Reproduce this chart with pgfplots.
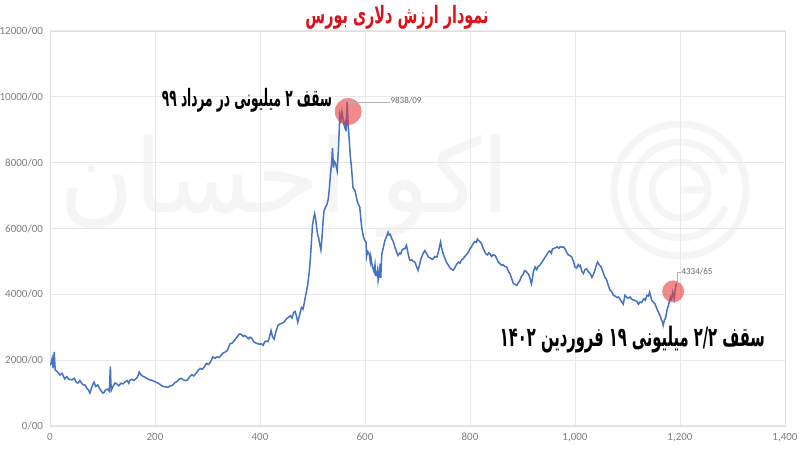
\documentclass[border=0pt]{standalone}
\usepackage{fontspec}
\usepackage{pgfplots}
\pgfplotsset{compat=1.18}
\usepackage{graphicx}
\setmainfont{Carlito}
\newfontfamily\fa[Script=Arabic]{DejaVu Sans}
\TeXXeTstate=1
\definecolor{lineblue}{RGB}{68,114,196}
\definecolor{titlered}{RGB}{222,16,28}
\definecolor{wm}{RGB}{245,245,245}
\definecolor{hl}{RGB}{235,60,60}
\begin{document}
\begin{tikzpicture}
\useasboundingbox (-25pt,-12.5pt) rectangle (375pt,213pt);
\fill[white] (-25pt,-12.5pt) rectangle (375pt,213pt);
% watermark
\node[text=wm] at (117.5pt,120pt) {\resizebox{225pt}{!}{\fa\beginR اکو احسان\endR}};
\draw[wm, line width=3.5pt] (315pt,118pt) circle (33pt);
\draw[wm, line width=3.5pt] (315pt,118pt) ++(20:24pt) arc (20:340:24pt);
\draw[wm, line width=3.5pt] (315pt,118pt) ++(-30:14pt) arc (-30:360:14pt) -- ++(-14pt,0);
\begin{axis}[
  at={(0,0)}, anchor=south west,
  width=367.5pt, height=197.5pt, scale only axis,
  xmin=0, xmax=1400, ymin=0, ymax=12000,
  scaled y ticks=false, scaled x ticks=false,
  xtick={0,200,...,1400},
  xticklabels={0,200,400,600,800,{1,000},{1,200},{1,400}},
  ytick={0,2000,...,12000},
  yticklabels={0/00,2000/00,4000/00,6000/00,8000/00,10000/00,12000/00},
  grid=major, major grid style={gray!18, line width=0.5pt},
  axis line style={gray!25},
  major tick length=0pt,
  tick label style={font=\fontsize{5.5}{6}\selectfont, text=gray},
  /pgf/number format/assume math mode=true,
]
\addplot[lineblue, line width=0.75pt, mark=none] coordinates {
(0,1850)(2,1900)(4,2050)(6,1750)(8,2250)(9,1950)(10,1700)(14,1650)(19,1550)(23,1600)(28,1430)(32,1500)(36,1420)(42,1400)(46,1450)(50,1330)(53,1300)(57,1380)(61,1280)(64,1250)(67,1240)(70,1150)(73,1100)(76,1000)(79,1150)(82,1280)(84,1330)(87,1200)(91,1250)(94,1150)(98,1050)(101,1000)(103,1020)(106,1100)(110,1120)(113,1060)(115,1800)(116,1300)(117,1090)(120,1200)(124,1310)(127,1280)(131,1220)(135,1300)(139,1280)(143,1340)(147,1380)(150,1300)(152,1390)(156,1420)(160,1380)(164,1440)(167,1500)(170,1640)(173,1560)(176,1520)(181,1480)(185,1440)(190,1400)(194,1390)(198,1360)(202,1330)(206,1300)(210,1260)(213,1220)(216,1200)(220,1190)(225,1180)(229,1220)(233,1230)(238,1320)(242,1350)(246,1420)(250,1450)(254,1400)(258,1380)(262,1400)(266,1500)(270,1560)(274,1520)(278,1600)(283,1700)(286,1750)(290,1720)(294,1800)(298,1900)(302,1870)(306,1950)(310,2100)(314,2060)(318,2100)(322,2080)(326,2150)(330,2220)(334,2250)(338,2300)(343,2500)(347,2520)(352,2610)(356,2700)(360,2780)(362,2800)(365,2770)(368,2720)(371,2750)(375,2700)(378,2650)(381,2700)(385,2650)(388,2560)(392,2520)(396,2500)(400,2480)(403,2500)(406,2450)(409,2560)(412,2580)(415,2560)(418,2700)(421,2900)(424,2700)(427,2640)(430,2850)(434,3050)(438,3100)(442,3120)(446,3160)(450,3250)(454,3300)(458,3350)(461,3280)(464,3450)(467,3480)(470,3300)(472,3150)(475,3350)(479,3600)(482,3550)(485,3800)(488,4050)(491,4300)(494,4700)(496,5100)(498,5600)(500,6100)(502,6300)(504,6450)(506,6300)(508,6000)(510,5800)(512,5700)(514,5500)(516,5350)(518,5700)(520,6200)(522,6550)(525,6650)(528,6750)(530,6900)(532,7200)(534,7600)(535,7750)(537,8100)(538,8450)(540,7850)(541,8050)(543,8000)(545,7900)(547,7750)(549,8300)(551,9000)(552,9450)(554,9300)(556,9550)(558,9350)(559,9200)(561,9100)(562,9200)(564,8950)(566,9838)(568,9150)(570,8700)(572,8200)(574,7900)(576,7500)(577,7250)(579,7200)(581,7150)(583,7000)(585,6850)(587,6750)(590,6650)(592,6300)(594,6000)(597,5750)(599,5650)(601,5600)(602,5580)(603,5150)(605,5300)(608,5230)(610,5000)(611,5150)(613,4930)(615,4800)(617,4700)(619,4900)(620,4580)(622,4570)(624,4750)(625,4420)(627,4600)(629,4930)(630,4500)(632,5230)(634,5350)(636,5500)(638,5640)(641,5750)(644,5890)(646,5800)(648,5820)(651,5690)(654,5600)(657,5430)(660,5300)(663,5180)(666,5250)(668,5230)(670,5330)(673,5380)(676,5380)(679,5490)(682,5250)(684,5100)(686,5030)(689,5050)(692,5000)(695,4980)(698,4850)(701,4730)(704,4900)(707,5100)(711,5250)(714,5330)(717,5250)(721,5130)(725,5100)(728,5060)(730,5080)(733,5150)(737,5130)(740,5300)(742,5450)(744,5590)(746,5400)(749,5230)(752,5100)(755,4980)(759,4880)(762,4800)(765,4760)(768,4730)(771,4800)(774,4900)(778,4980)(781,4950)(784,5050)(787,5080)(790,5150)(793,5200)(797,5280)(800,5380)(803,5450)(806,5540)(809,5600)(812,5580)(814,5680)(816,5640)(819,5600)(822,5540)(825,5400)(828,5300)(830,5230)(833,5200)(836,5260)(838,5230)(841,5150)(844,5200)(848,5180)(851,5080)(854,4980)(857,4930)(860,4880)(863,4900)(866,4850)(870,4830)(873,4700)(876,4630)(879,4500)(881,4400)(883,4320)(886,4300)(889,4270)(892,4350)(895,4420)(898,4550)(901,4600)(904,4720)(907,4700)(909,4650)(911,4630)(914,4500)(917,4320)(919,4500)(921,4700)(924,4830)(927,4750)(930,4850)(933,4880)(936,4950)(940,5050)(943,5130)(946,5200)(949,5280)(952,5320)(955,5250)(957,5380)(960,5390)(963,5420)(966,5440)(969,5400)(972,5450)(975,5430)(978,5440)(981,5380)(984,5280)(987,5200)(990,5180)(994,5130)(997,5000)(1000,4830)(1003,4800)(1006,4900)(1008,4850)(1010,4880)(1013,4700)(1016,4630)(1019,4750)(1022,4780)(1025,4700)(1028,4650)(1030,4600)(1032,4520)(1035,4600)(1038,4730)(1040,4850)(1043,4980)(1046,4900)(1049,4850)(1051,4780)(1054,4650)(1057,4520)(1060,4450)(1063,4300)(1066,4150)(1068,4120)(1071,4050)(1073,3970)(1076,3950)(1080,3900)(1083,3920)(1086,3850)(1089,3770)(1092,3700)(1095,3970)(1098,3920)(1101,3880)(1105,3920)(1108,3850)(1111,3830)(1114,3820)(1118,3780)(1121,3700)(1124,3770)(1127,3750)(1131,3870)(1134,3820)(1137,3970)(1140,3950)(1142,4070)(1144,3950)(1146,3820)(1149,3770)(1152,3720)(1155,3600)(1157,3520)(1159,3460)(1162,3350)(1165,3210)(1167,3150)(1168,3060)(1170,3200)(1173,3310)(1175,3500)(1178,3670)(1180,3800)(1182,3920)(1184,3850)(1186,4070)(1188,3950)(1189,3870)(1191,4150)(1193,4335)
};
\addplot[only marks, mark=*, mark size=6.7pt, color=hl, mark options={draw opacity=0, fill=hl, fill opacity=0.6}] coordinates {(568,9555)};
\addplot[only marks, mark=*, mark size=5.5pt, color=hl, mark options={draw opacity=0, fill=hl, fill opacity=0.6}] coordinates {(1187,4090)};
\end{axis}
% data labels and leaders
\draw[gray!60, line width=0.4pt] (149pt,162pt) -- (170pt,162pt);
\node[text=gray!80!black, font=\fontsize{4.5}{5}\selectfont] at (178pt,162.5pt) {9838/09};
\draw[gray!60, line width=0.4pt] (313.5pt,71.5pt) -- (313.5pt,77pt) -- (315.5pt,77pt);
\node[text=gray!80!black, font=\fontsize{4.5}{5}\selectfont] at (323.5pt,77pt) {4334/65};
% title and annotations
\node[text=titlered] at (173.5pt,204.5pt) {\resizebox*{91.5pt}{12pt}{\fa\bfseries\beginR نمودار ارزش دلاری بورس\endR}};
\node at (98.5pt,163pt) {\resizebox*{85pt}{12pt}{\fa\bfseries\beginR سقف ۲ میلیونی در مرداد ۹۹\endR}};
\node at (291.25pt,43pt) {\resizebox*{132.5pt}{13.5pt}{\fa\bfseries\beginR سقف ۲/۲ میلیونی ۱۹ فروردین ۱۴۰۲\endR}};
\end{tikzpicture}
\end{document}
